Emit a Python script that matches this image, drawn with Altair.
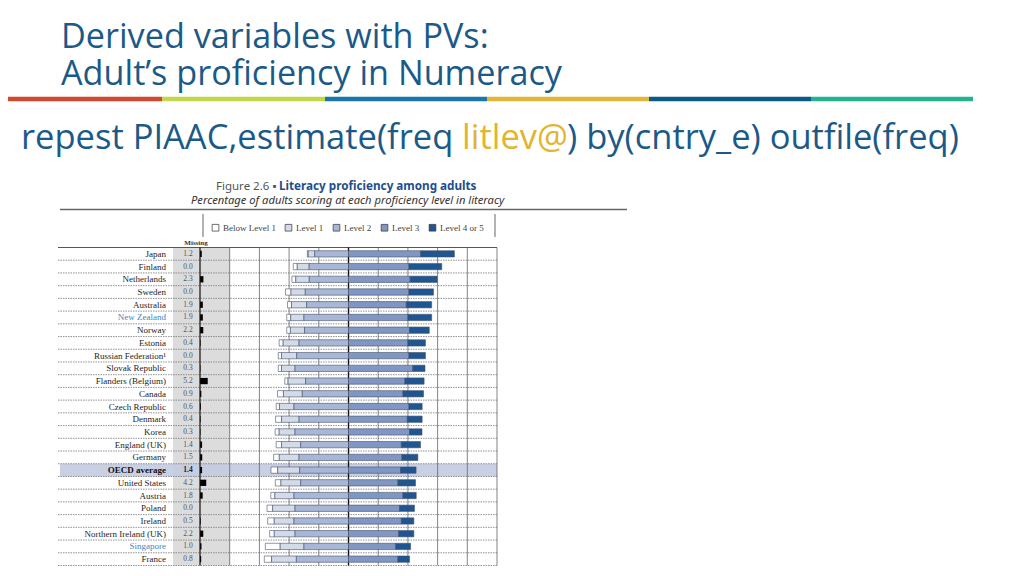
import altair as alt
import pandas as pd

# ---------------- data ----------------
countries = ["Japan", "Finland", "Netherlands", "Sweden", "Australia", "New Zealand",
             "Norway", "Estonia", "Russian Federation¹", "Slovak Republic",
             "Flanders (Belgium)", "Canada", "Czech Republic", "Denmark", "Korea",
             "England (UK)", "Germany", "OECD average", "United States", "Austria",
             "Poland", "Ireland", "Northern Ireland (UK)", "Singapore", "France"]
missing = [1.2, 0.0, 2.3, 0.0, 1.9, 1.9, 2.2, 0.4, 0.0, 0.3, 5.2, 0.9, 0.6, 0.4, 0.3,
           1.4, 1.5, 1.4, 4.2, 1.8, 0.0, 0.5, 2.2, 1.0, 0.8]
below_l1 = [0.6, 2.7, 2.6, 3.7, 2.7, 2.7, 2.5, 2.7, 2.2, 2.2, 2.2, 4.0, 2.2, 4.0, 2.7,
            3.6, 3.8, 4.5, 3.8, 2.7, 3.8, 4.4, 3.1, 10.0, 4.9]
level1 = [4.3, 8.0, 9.1, 9.6, 10.2, 8.9, 9.5, 10.7, 10.2, 9.1, 11.8, 12.7, 9.8, 11.8, 10.7,
          12.9, 13.3, 14.8, 13.3, 12.9, 15.1, 13.3, 14.0, 16.0, 16.7]
level2 = [22.8, 26.5, 26.4, 29.1, 28.2, 30.0, 29.6, 33.3, 34.9, 36.0, 28.9, 31.1, 36.7, 33.3, 36.0,
          32.2, 33.3, 32.9, 32.2, 36.7, 36.0, 36.7, 36.0, 30.0, 35.1]
level3 = [48.6, 40.7, 41.5, 40.7, 38.9, 40.0, 41.1, 40.0, 40.7, 43.3, 38.0, 36.7, 40.7, 39.6, 41.1,
          35.6, 36.0, 35.1, 33.3, 36.7, 34.4, 35.6, 33.8, 31.8, 33.3]
level45 = [22.7, 22.1, 18.2, 16.5, 17.1, 16.0, 13.3, 11.8, 11.1, 8.2, 12.9, 13.8, 8.9, 10.0, 8.4,
           12.9, 10.7, 10.4, 11.8, 8.9, 10.0, 8.4, 10.2, 10.0, 7.8]
levels = ["Below Level 1", "Level 1", "Level 2", "Level 3", "Level 4 or 5"]
level_colors = ["#ffffff", "#d3dae8", "#a8b7d5", "#7f97c2", "#1f5591"]
grid_ticks = [-80, -60, -40, -20, 20, 40, 60, 80, 100]
zero_tick = [0]
missing_base = -100
blue_countries = ["New Zealand", "Singapore"]

stripe_colors = ["#cf4a2f", "#c3d64c", "#1a76a8", "#e1b53a", "#0e5a86", "#21b48f"]

# ---------------- tables ----------------
rows = pd.DataFrame({"country": countries, "missing": missing})
rows["miss_start"] = missing_base
rows["miss_end"] = [missing_base + m for m in missing]

seg = []
for i, c in enumerate(countries):
    b, l1, l2, l3, l4 = below_l1[i], level1[i], level2[i], level3[i], level45[i]
    seg.append((c, "Below Level 1", -(b + l1 + l2), -(l1 + l2)))
    seg.append((c, "Level 1", -(l1 + l2), -l2))
    seg.append((c, "Level 2", -l2, 0))
    seg.append((c, "Level 3", 0, l3))
    seg.append((c, "Level 4 or 5", l3, l3 + l4))
segs = pd.DataFrame(seg, columns=["country", "level", "start", "end"])
grid = pd.DataFrame({"g": grid_ticks})
zero = pd.DataFrame({"g": zero_tick})
base = pd.DataFrame({"g": [missing_base]})
one = pd.DataFrame({"k": [0]})

# ---------------- scales ----------------
OFF = 8  # page margin
xs = alt.Scale(domain=[-100, 100], range=[200 - OFF, 497 - OFF], nice=False, zero=False)
TOP, BOT = 247.5 - OFF, 565.5 - OFF
ys = alt.Scale(domain=countries, range=[TOP, BOT], paddingInner=0, paddingOuter=0)
Y = alt.Y("country:N", scale=ys, axis=None, sort=countries)

SLIDE_BLUE = "#1b5a88"
SLIDE_FONT = "Open Sans"
FIG_FONT = "Liberation Serif"


def txt(s, x, y, **kw):
    return alt.Chart(one).mark_text(text=s, **kw).encode(x=alt.value(x), y=alt.value(y))


def hline(x1, x2, y, **kw):
    return alt.Chart(one).mark_rule(**kw).encode(x=alt.value(x1), x2=alt.value(x2), y=alt.value(y))


def vline(x, y1, y2, **kw):
    return alt.Chart(one).mark_rule(**kw).encode(x=alt.value(x), y=alt.value(y1), y2=alt.value(y2))


layers = []

# slide title (two lines in one text mark)
layers.append(txt(["Derived variables with PVs:", "Adult\u2019s proficiency in Numeracy"],
                  61 - OFF, 48 - OFF, align="left", baseline="alphabetic", lineHeight=37,
                  font=SLIDE_FONT, fontSize=34.2, color=SLIDE_BLUE))
# stripe
edges = [0, 162, 325, 487, 649, 811, 973]
for i, col in enumerate(stripe_colors):
    layers.append(hline(max(edges[i] - OFF, 0), edges[i + 1] - OFF, 99 - OFF, color=col,
                        strokeWidth=4.5))
# command line
layers.append(txt("repest PIAAC,estimate(freq ", 21 - OFF, 149 - OFF, align="left",
                  baseline="alphabetic", font=SLIDE_FONT, fontSize=34.5, color=SLIDE_BLUE))
layers.append(txt("litlev@", 462 - OFF, 149 - OFF, align="left",
                  baseline="alphabetic", font=SLIDE_FONT, fontSize=34.5, color="#e2b430"))
layers.append(txt(") by(cntry_e) outfile(freq)", 567 - OFF, 149 - OFF, align="left",
                  baseline="alphabetic", font=SLIDE_FONT, fontSize=34.5, color=SLIDE_BLUE))

# figure heading
layers.append(txt("Figure 2.6 \u25aa", 216 - OFF, 190 - OFF, align="left", baseline="alphabetic",
                  font="Noto Sans", fontSize=11.5, color="#555555"))
layers.append(txt("Literacy proficiency among adults", 279 - OFF, 190 - OFF, align="left",
                  baseline="alphabetic", font="Noto Sans", fontSize=11.7, fontWeight="bold",
                  color="#1f4e8c"))
layers.append(txt("Percentage of adults scoring at each proficiency level in literacy", 191 - OFF,
                  204 - OFF, align="left", baseline="alphabetic", font="Noto Sans",
                  fontStyle="italic", fontSize=11.2, color="#333333"))
layers.append(hline(60 - OFF, 627 - OFF, 209.5 - OFF, color="#666666", strokeWidth=1.3))
layers.append(vline(203 - OFF, 214 - OFF, 237 - OFF, color="#666666", strokeWidth=1))
layers.append(vline(495 - OFF, 214 - OFF, 237 - OFF, color="#666666", strokeWidth=1))
layers.append(txt("Missing", 196 - OFF, 245 - OFF, align="center", baseline="alphabetic",
                  font=FIG_FONT, fontSize=7, fontWeight="bold", color="#333333"))

# gray "missing" band
layers.append(alt.Chart(one).mark_rect(color="#dcdcdc").encode(
    x=alt.value(173 - OFF), x2=alt.value(230 - OFF), y=alt.value(TOP), y2=alt.value(BOT)))
# OECD highlight row
layers.append(alt.Chart(rows).transform_filter(alt.datum.country == "OECD average")
              .mark_rect(color="#c3cbe0", opacity=0.9)
              .encode(y=Y, x=alt.value(60 - OFF), x2=alt.value(497 - OFF)))
# row separators
layers.append(alt.Chart(rows).mark_rule(color="#777777", strokeWidth=0.8, strokeDash=[1.5, 1])
              .encode(y=alt.Y("country:N", scale=ys, axis=None, sort=countries, bandPosition=1),
                      x=alt.value(58 - OFF), x2=alt.value(497 - OFF)))
layers.append(hline(58 - OFF, 497 - OFF, TOP, color="#555555", strokeWidth=1))
# vertical gridlines
layers.append(alt.Chart(grid).mark_rule(color="#666666", strokeWidth=0.8).encode(
    x=alt.X("g:Q", scale=xs, axis=None), y=alt.value(TOP), y2=alt.value(BOT)))
layers.append(alt.Chart(zero).mark_rule(color="#111111", strokeWidth=1.4).encode(
    x=alt.X("g:Q", scale=xs, axis=None), y=alt.value(TOP), y2=alt.value(BOT)))

# stacked proficiency bars
layers.append(alt.Chart(segs).mark_bar(size=6.3, stroke="#44506a", strokeWidth=0.6).encode(
    y=Y,
    x=alt.X("start:Q", scale=xs, axis=None),
    x2="end:Q",
    color=alt.Color("level:N", scale=alt.Scale(domain=levels, range=level_colors),
                    legend=alt.Legend(orient="none", legendX=211 - OFF, legendY=223 - OFF,
                                      direction="horizontal", title=None, symbolType="square",
                                      symbolSize=45, symbolStrokeColor="#333333",
                                      symbolStrokeWidth=0.7, labelFont=FIG_FONT,
                                      labelFontSize=9, labelColor="#444444",
                                      columnPadding=7, labelOffset=3, padding=0)),
))
# missing bars
layers.append(alt.Chart(rows).mark_bar(size=6.3, color="#000000").encode(
    y=Y, x=alt.X("miss_start:Q", scale=xs, axis=None), x2="miss_end:Q"))
layers.append(alt.Chart(base).mark_rule(color="#111111", strokeWidth=1.2).encode(
    x=alt.X("g:Q", scale=xs, axis=None), y=alt.value(TOP), y2=alt.value(BOT)))

# row labels
plain = rows[(rows.country != "OECD average") & (~rows.country.isin(blue_countries))]
blue = rows[rows.country.isin(blue_countries)]
bold = rows[rows.country == "OECD average"]
layers.append(alt.Chart(plain).mark_text(align="right", baseline="middle", font=FIG_FONT,
                                         fontSize=9, color="#1e1e1e").encode(
    y=Y, x=alt.value(166 - OFF), text="country:N"))
layers.append(alt.Chart(blue).mark_text(align="right", baseline="middle", font=FIG_FONT,
                                        fontSize=9, color="#3f86c0").encode(
    y=Y, x=alt.value(166 - OFF), text="country:N"))
layers.append(alt.Chart(bold).mark_text(align="right", baseline="middle", font=FIG_FONT,
                                        fontSize=9, fontWeight="bold", color="#111111").encode(
    y=Y, x=alt.value(166 - OFF), text="country:N"))
normal = rows[rows.country != "OECD average"]
layers.append(alt.Chart(normal).mark_text(align="center", baseline="middle", font=FIG_FONT,
                                          fontSize=7.5, color="#555555").encode(
    y=Y, x=alt.value(188 - OFF), text=alt.Text("missing:Q", format=".1f")))
layers.append(alt.Chart(bold).mark_text(align="center", baseline="middle", font=FIG_FONT,
                                        fontSize=7.5, fontWeight="bold", color="#222222").encode(
    y=Y, x=alt.value(188 - OFF), text=alt.Text("missing:Q", format=".1f")))

chart = alt.layer(*layers).properties(
    width=1008, height=560, padding=0, autosize=alt.AutoSizeParams(type="none")
).configure_view(strokeWidth=0)

chart.save("out.html", embed_options={"renderer": "svg", "actions": False})
